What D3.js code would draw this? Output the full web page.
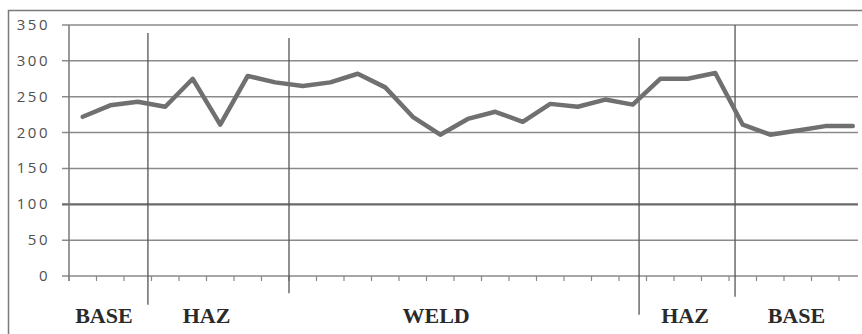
<!DOCTYPE html>
<html><head><meta charset="utf-8">
<script src="https://cdn.jsdelivr.net/npm/d3@7"></script>
<style>body{margin:0;background:#fff}svg{display:block}</style>
</head><body><svg id="c" width="862" height="334"></svg>
<script>
// data
const points = d3.range(29);
const hardness = [222,238,243,236,275,211,279,270,265,270,282,263,222,197,219,229,215,240,236,246,239,275,275,283,211,197,203,209,209];
const yTicks = [0,50,100,150,200,250,300,350];
// zone boundaries in category units, with their drawn extents (value units, top/bottom)
const zoneBounds = [2.87, 8.0, 20.73, 24.22];
const zoneTop = [339, 332, 332, 350];
const zoneBottom = [-40, -24, -54, -29];
const zoneNames = ["BASE","HAZ","WELD","HAZ","BASE"];
const zoneCenters = [1.27, 5.0, 13.35, 22.4, 26.45];

const svg = d3.select("#c");
const L = 69, R = 866.5, T = 25, B = 276, gridEnd = 858;
const x = d3.scaleBand().domain(points).range([L, R]).paddingInner(0).paddingOuter(0);
const xl = d3.scaleLinear().domain([0, points.length]).range([L, R]);
const y = d3.scaleLinear().domain([0, 350]).range([B, T]);

// outer frame
svg.append("rect").attr("x",8.5).attr("y",10.5).attr("width",880).attr("height",360)
  .attr("fill","none").attr("stroke","#7a7a7a").attr("stroke-width",1.5);

// gridlines
svg.append("g").selectAll("line").data(yTicks).join("line")
  .attr("x1", L-7).attr("x2", gridEnd)
  .attr("y1", d=>y(d)).attr("y2", d=>y(d))
  .attr("stroke", d=> d===100 ? "#6a6a6a" : "#8a8a8a")
  .attr("stroke-width", d=> d===100 ? 2.2 : 1.5);

// y labels
svg.append("g").selectAll("text").data(yTicks).join("text")
  .attr("x", 50).attr("y", d=>y(d)+1)
  .attr("text-anchor","end").attr("dominant-baseline","middle")
  .attr("font-family","'Open Sans', 'DejaVu Sans', sans-serif").attr("font-size",15)
  .attr("letter-spacing","2.5px")
  .attr("fill","#505050").text(d=>d);

// y axis line
svg.append("line").attr("x1",L).attr("x2",L).attr("y1",T).attr("y2",B+5)
  .attr("stroke","#777").attr("stroke-width",1.5);

// x ticks
const tickPos = d3.range(points.length+1).map(i=>xl(i)).filter(v=>v<=gridEnd);
svg.append("g").selectAll("line").data(tickPos).join("line")
  .attr("x1",d=>d).attr("x2",d=>d).attr("y1",B).attr("y2",B+5)
  .attr("stroke","#888").attr("stroke-width",1.2);

// zone boundaries
svg.append("g").selectAll("line").data(zoneBounds).join("line")
  .attr("x1",d=>xl(d)).attr("x2",d=>xl(d))
  .attr("y1",(d,i)=>y(zoneTop[i])).attr("y2",(d,i)=>y(zoneBottom[i]))
  .attr("stroke","#555").attr("stroke-width",1.3);

// data line
const line = d3.line().x((d,i)=>x(points[i])+x.bandwidth()/2).y(d=>y(d));
svg.append("path").datum(hardness).attr("d",line)
  .attr("fill","none").attr("stroke","#707070").attr("stroke-width",4.5)
  .attr("stroke-linejoin","round").attr("stroke-linecap","round");

// zone labels
svg.append("g").selectAll("text").data(zoneNames).join("text")
  .attr("x",(d,i)=>xl(zoneCenters[i])).attr("y",323)
  .attr("text-anchor","middle")
  .attr("font-family","'Liberation Serif','Times New Roman',serif")
  .attr("font-weight","bold").attr("font-size",22)
  .attr("fill","#2a2a2a").text(d=>d);
</script></body></html>
